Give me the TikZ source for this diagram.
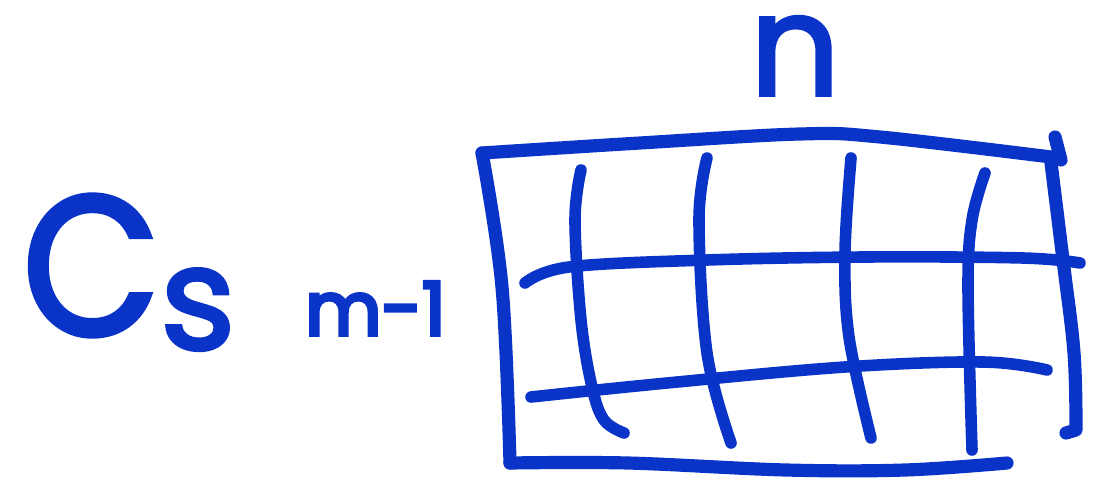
\documentclass[tikz,border=0pt]{standalone}
\usepackage{fontspec}
\newfontfamily\hand{Poppins}[FakeBold=2.5]
\newfontfamily\handheavy{Poppins}[FakeBold=5]
\definecolor{ink}{RGB}{10,52,200}
\begin{document}
\begin{tikzpicture}[x=0.02cm,y=-0.02cm,
  frame/.style={draw=ink,line width=7.5pt,line cap=round,line join=round},
  gridline/.style={draw=ink,line width=6.6pt,line cap=round,line join=round},
  label/.style={text=ink,inner sep=0pt,font=\hand}]
\useasboundingbox (0,0) rectangle (1097,493);
% labels
\node[label,anchor=base west] (cs) at (22,335) {\fontsize{113}{113}\selectfont\scalebox{0.9}[1]{C}\raisebox{-8pt}{\fontsize{82}{82}\selectfont s}};
\node[label,font=\handheavy,anchor=base west] (m) at (305,335) {\fontsize{42}{42}\selectfont m-1};
\node[label,anchor=base] (n) at (795,95) {\fontsize{80}{80}\selectfont n};
% frame
\draw[frame] plot[smooth,tension=0.6] coordinates {(482,153) (640,143) (800,134) (880,137) (1059,158)};
\draw[frame] (1055,137) -- (1061,160);
\draw[frame] plot[smooth,tension=0.6] coordinates {(1051,163) (1063,260) (1074,353) (1076,430)} -- (1066,433);
\draw[frame] plot[smooth,tension=0.6] coordinates {(482,153) (502,287) (510,463)};
\draw[frame] plot[smooth,tension=0.6] coordinates {(510,463) (628,463) (786,470) (905,470) (1007,463)};
% horizontal grid lines
\draw[gridline] plot[smooth,tension=0.6] coordinates {(525,283) (569,267) (707,260) (865,257) (1023,258) (1080,263)};
\draw[gridline] plot[smooth,tension=0.6] coordinates {(531,397) (667,383) (845,367) (983,362) (1047,370)};
% vertical grid lines
\draw[gridline] plot[smooth,tension=0.6] coordinates {(581,170) (575,220) (581,320) (592,387) (604,420) (624,433)};
\draw[gridline] plot[smooth,tension=0.6] coordinates {(707,158) (699,220) (707,353) (731,443)};
\draw[gridline] plot[smooth,tension=0.6] coordinates {(851,158) (845,253) (849,337) (871,438)};
\draw[gridline] plot[smooth,tension=0.6] coordinates {(985,173) (972,220) (968,287) (972,450)};
\end{tikzpicture}
\end{document}
